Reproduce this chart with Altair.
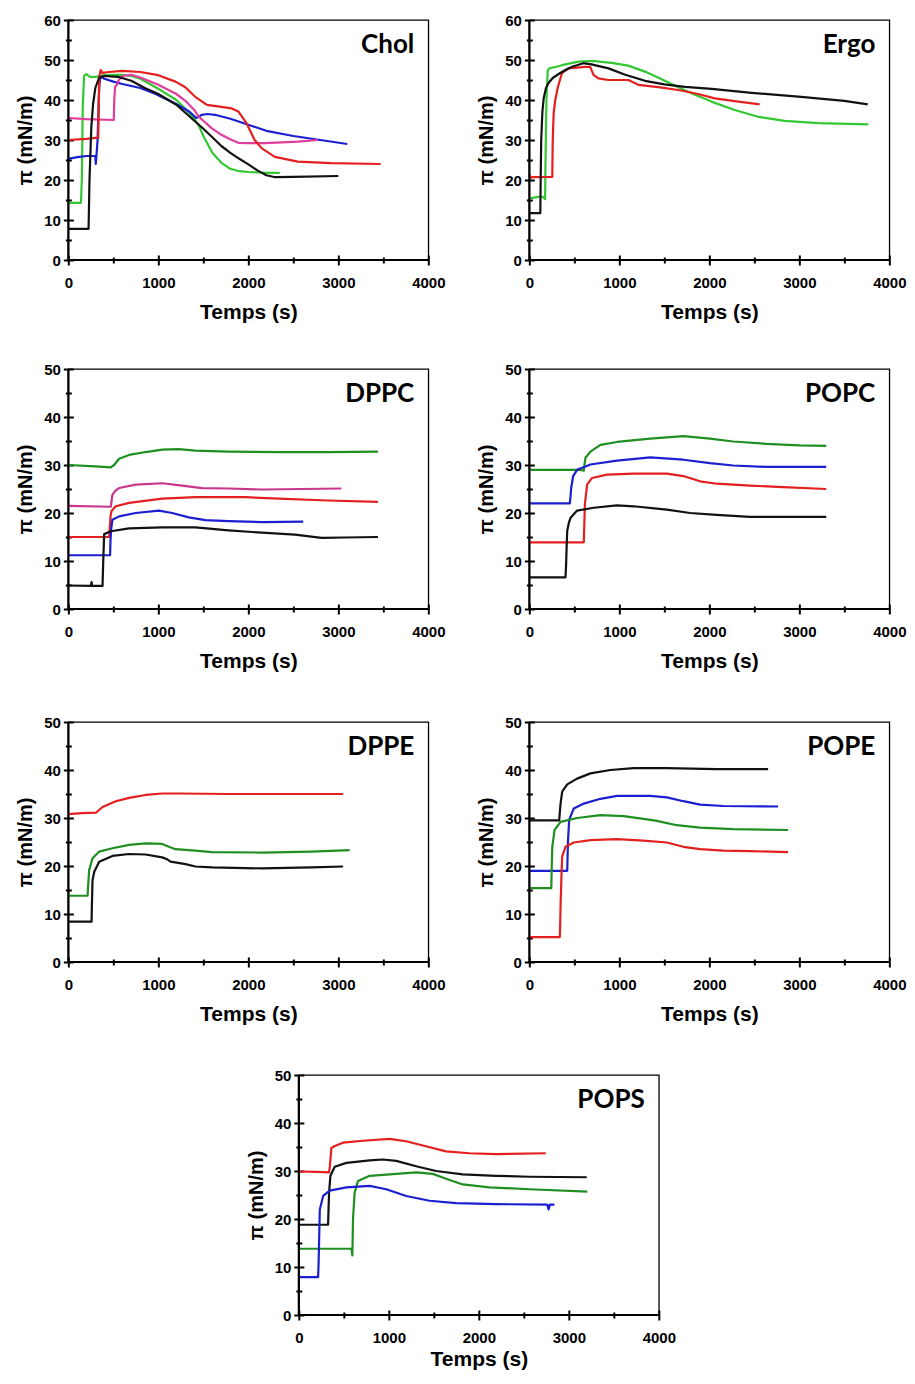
import altair as alt
import pandas as pd

# ---------------- data ----------------
# Chol
CHOL_BLACK_T = [0, 225, 235, 255, 275, 300, 340, 400, 550, 700, 850, 1000, 1200, 1400, 1500, 1600, 1700, 1800, 1900, 2000, 2100, 2200, 2300, 2500, 3000]
CHOL_BLACK_P = [7.8, 7.8, 20, 33, 39, 43, 45.5, 46, 45.8, 44.8, 43, 41.5, 38.8, 34.8, 32.8, 30.7, 28.5, 26.8, 25.3, 23.9, 22.4, 21.2, 20.7, 20.8, 21]
CHOL_GREEN_T = [0, 140, 150, 160, 175, 200, 240, 300, 400, 500, 600, 700, 800, 1000, 1200, 1300, 1400, 1450, 1500, 1600, 1700, 1800, 1900, 2000, 2200, 2350]
CHOL_GREEN_P = [14.3, 14.3, 20, 38, 46, 46.5, 45.8, 45.8, 46.2, 46.3, 46.3, 46, 45.3, 42.8, 40, 37.8, 35.3, 33.6, 31, 26.8, 24.3, 22.8, 22.2, 22, 21.8, 21.8]
CHOL_RED_T = [0, 200, 333, 338, 345, 360, 380, 450, 600, 800, 1000, 1190, 1300, 1410, 1540, 1700, 1815, 1890, 1980, 2070, 2150, 2295, 2550, 2920, 3470]
CHOL_RED_P = [30, 30.3, 30.6, 40, 46, 47.5, 46.8, 47, 47.3, 47, 46.2, 44.6, 43.2, 40.8, 38.8, 38.3, 37.9, 37.1, 34.2, 30, 27.9, 25.8, 24.6, 24.2, 24]
CHOL_BLUE_T = [0, 100, 200, 300, 305, 312, 325, 335, 345, 360, 400, 500, 600, 700, 800, 970, 1200, 1350, 1420, 1450, 1480, 1550, 1650, 1800, 2000, 2200, 2500, 2800, 3100]
CHOL_BLUE_P = [25.3, 25.7, 26, 26, 24, 26, 30, 38, 44, 46, 45.3, 44.6, 44, 43.5, 43, 41.5, 39, 37, 35.5, 35.8, 36.3, 36.5, 36.2, 35.3, 33.8, 32.3, 31, 30, 29]
CHOL_PINK_T = [0, 200, 505, 510, 520, 540, 560, 600, 700, 800, 1000, 1200, 1300, 1400, 1450, 1595, 1700, 1815, 1890, 2000, 2185, 2550, 2770]
CHOL_PINK_P = [35.5, 35.2, 35, 40, 43.3, 43.8, 45, 46, 46.3, 45.6, 43.8, 41.5, 39.8, 37.5, 35.8, 32.9, 31.3, 30, 29.3, 29.2, 29.2, 29.6, 30]

# Ergo
ERGO_BLACK_T = [0, 122, 126, 132, 145, 160, 185, 215, 260, 325, 400, 475, 600, 690, 880, 1065, 1285, 1500, 1730, 2025, 2470, 3020, 3500, 3760]
ERGO_BLACK_P = [11.7, 11.7, 20, 30, 37, 40.5, 43, 44.3, 45.5, 46.5, 47.5, 48.3, 49.2, 48.9, 47.9, 46.3, 44.8, 43.9, 43.3, 42.8, 41.8, 40.8, 39.8, 38.9]
ERGO_GREEN_T = [0, 100, 150, 175, 180, 190, 205, 230, 300, 362, 547, 694, 916, 1100, 1285, 1470, 1655, 1840, 2024, 2282, 2541, 2837, 3212, 3767]
ERGO_GREEN_P = [15.4, 15.8, 15.8, 15.2, 25, 40, 47.5, 48, 48.3, 48.7, 49.6, 49.8, 49.3, 48.6, 47.1, 45.2, 43.2, 41.3, 39.6, 37.5, 35.8, 34.8, 34.2, 33.9]
ERGO_RED_T = [0, 15, 40, 255, 260, 270, 288, 318, 362, 436, 620, 676, 713, 768, 879, 1100, 1211, 1433, 1655, 1876, 2061, 2282, 2559]
ERGO_RED_P = [21.3, 20.6, 20.7, 20.8, 30, 36.5, 40, 43.3, 46.7, 47.9, 48.3, 48.3, 46.3, 45.4, 45, 45, 43.8, 43.2, 42.5, 41.5, 40.4, 39.7, 38.9]

# DPPC
DPPC_GREEN_T = [0, 300, 472, 509, 564, 675, 859, 1043, 1228, 1412, 1780, 2334, 2887, 3440]
DPPC_GREEN_P = [30, 29.7, 29.5, 30, 31.3, 32.1, 32.7, 33.2, 33.3, 33, 32.8, 32.7, 32.7, 32.8]
DPPC_PINK_T = [0, 472, 480, 490, 520, 564, 748, 1043, 1265, 1486, 1780, 2150, 3034]
DPPC_PINK_P = [21.5, 21.3, 22.5, 23.8, 24.6, 25.2, 25.9, 26.2, 25.7, 25.2, 25.1, 24.9, 25.1]
DPPC_RED_T = [0, 453, 461, 470, 480, 527, 675, 1043, 1412, 1966, 2334, 2887, 3440]
DPPC_RED_P = [15, 15, 17, 19.5, 20.4, 21.4, 22.1, 23, 23.3, 23.3, 23, 22.6, 22.3]
DPPC_BLUE_T = [0, 464, 468, 475, 490, 564, 748, 1006, 1154, 1338, 1523, 1780, 2150, 2610]
DPPC_BLUE_P = [11.2, 11.2, 14, 16.5, 18.6, 19.3, 20, 20.5, 20, 19.1, 18.5, 18.3, 18.1, 18.2]
DPPC_BLACK_T = [0, 250, 258, 265, 380, 388, 398, 472, 675, 1043, 1412, 1780, 2150, 2518, 2813, 3071, 3440]
DPPC_BLACK_P = [4.9, 4.8, 5.6, 4.8, 4.8, 10, 15.6, 16.2, 16.8, 17, 17, 16.4, 15.9, 15.5, 14.8, 14.9, 15]

# POPC
POPC_GREEN_T = [0, 560, 605, 612, 624, 679, 790, 974, 1343, 1712, 2007, 2266, 2635, 3004, 3299]
POPC_GREEN_P = [29, 29, 28.8, 30, 31.5, 32.8, 34.2, 34.8, 35.5, 36, 35.5, 34.9, 34.4, 34.1, 34]
POPC_BLUE_T = [0, 450, 458, 465, 487, 531, 679, 974, 1343, 1712, 2007, 2266, 2635, 3299]
POPC_BLUE_P = [22, 22, 23.5, 25.2, 27.7, 29, 30.1, 30.9, 31.6, 31.1, 30.4, 29.9, 29.6, 29.6]
POPC_RED_T = [0, 605, 610, 617, 642, 697, 863, 1159, 1528, 1712, 1897, 2081, 2450, 2819, 3299]
POPC_RED_P = [13.9, 13.9, 17, 21.8, 25.9, 27.3, 28, 28.2, 28.2, 27.7, 26.6, 26.1, 25.7, 25.4, 25]
POPC_BLACK_T = [0, 402, 408, 413, 421, 440, 458, 531, 716, 974, 1159, 1528, 1786, 2081, 2450, 3299]
POPC_BLACK_P = [6.6, 6.6, 9, 12.1, 16.3, 18, 19, 20.5, 21.1, 21.6, 21.4, 20.7, 20, 19.6, 19.2, 19.2]

# DPPE
DPPE_RED_T = [0, 150, 306, 380, 527, 675, 859, 1043, 1228, 1780, 3053]
DPPE_RED_P = [30.8, 31, 31.1, 32.3, 33.5, 34.2, 34.8, 35.1, 35.1, 35, 35]
DPPE_GREEN_T = [0, 214, 222, 232, 269, 343, 490, 675, 859, 1043, 1117, 1191, 1412, 1597, 2150, 2703, 3126]
DPPE_GREEN_P = [13.8, 13.8, 16.5, 19.2, 21.6, 23, 23.7, 24.4, 24.7, 24.6, 24, 23.5, 23.2, 22.9, 22.8, 23, 23.3]
DPPE_BLACK_T = [0, 258, 262, 269, 288, 343, 490, 675, 859, 1043, 1099, 1136, 1302, 1412, 1597, 2150, 2703, 3053]
DPPE_BLACK_P = [8.4, 8.4, 12, 17.1, 18.8, 20.9, 22.1, 22.5, 22.4, 21.8, 21.4, 20.9, 20.4, 19.9, 19.7, 19.5, 19.7, 19.9]

# POPE
POPE_BLACK_T = [0, 332, 338, 347, 365, 421, 531, 679, 900, 1159, 1528, 2081, 2653]
POPE_BLACK_P = [29.5, 29.5, 31, 33, 35.5, 37, 38.2, 39.3, 40, 40.4, 40.4, 40.2, 40.2]
POPE_BLUE_T = [0, 421, 425, 430, 443, 494, 605, 790, 974, 1343, 1528, 1712, 1897, 2155, 2764]
POPE_BLUE_P = [19, 19, 22, 25.4, 29.6, 32, 33, 34, 34.6, 34.6, 34.3, 33.5, 32.8, 32.5, 32.4]
POPE_GREEN_T = [0, 244, 248, 255, 280, 347, 531, 790, 1048, 1269, 1417, 1638, 1897, 2266, 2875]
POPE_GREEN_P = [15.4, 15.4, 19, 24, 27.5, 29.2, 30, 30.6, 30.4, 29.8, 29.4, 28.5, 28, 27.7, 27.5]
POPE_RED_T = [0, 339, 343, 347, 357, 365, 402, 494, 679, 974, 1269, 1528, 1712, 1897, 2155, 2450, 2875]
POPE_RED_P = [5.2, 5.2, 8, 11.6, 18, 22, 24, 24.9, 25.4, 25.6, 25.3, 24.9, 24, 23.5, 23.2, 23.1, 22.9]

# POPS
POPS_RED_T = [0, 200, 336, 345, 351, 362, 399, 491, 713, 1008, 1193, 1378, 1636, 1895, 2190, 2744]
POPS_RED_P = [29.9, 29.8, 29.7, 31, 32.4, 34.8, 35.2, 35.9, 36.3, 36.7, 36.2, 35.3, 34.1, 33.7, 33.5, 33.7]
POPS_BLACK_T = [0, 325, 330, 336, 351, 399, 528, 787, 934, 1082, 1304, 1525, 1821, 2190, 2560, 3199]
POPS_BLACK_P = [18.8, 18.8, 22, 25.5, 29, 30.9, 31.7, 32.2, 32.4, 32.1, 31, 30, 29.3, 29, 28.8, 28.7]
POPS_GREEN_T = [0, 584, 590, 595, 602, 620, 657, 787, 1082, 1304, 1488, 1636, 1821, 2117, 2560, 3206]
POPS_GREEN_P = [13.8, 13.8, 13, 12.4, 20, 25.5, 27.9, 29, 29.4, 29.7, 29.4, 28.4, 27.2, 26.6, 26.2, 25.7]
POPS_BLUE_T = [0, 214, 220, 225, 233, 270, 343, 528, 787, 971, 1193, 1452, 1747, 2190, 2760, 2775, 2790, 2840]
POPS_BLUE_P = [7.9, 7.9, 11, 15.2, 22, 24.8, 25.9, 26.6, 26.9, 26.2, 24.8, 23.8, 23.3, 23.1, 23, 22, 23, 23]

X_MAJOR = [0, 1000, 2000, 3000, 4000]
X_MINOR = [500, 1500, 2500, 3500]

# ---------------- styles ----------------
COL = {
    "black": "#111111",
    "red": "#e3201f",
    "blue": "#1c1fd0",
    "green": "#33c733",
    "dkgreen": "#1f8f22",
    "pink": "#e23c9c",
    "dkpink": "#c8378c",
}
W, H = 360, 240
FONT = "Liberation Sans"


def make_df(series):
    rows = []
    for name, ts, ps in series:
        for i, (t, p) in enumerate(zip(ts, ps)):
            rows.append({"s": name, "c": COL[name], "t": t, "p": p, "i": i})
    return pd.DataFrame(rows)


def panel(label, series, ymax, xtitle_pad=11):
    xs = alt.Scale(domain=[0, 4000], nice=False, zero=False)
    ys = alt.Scale(domain=[0, ymax], nice=False, zero=False)
    y_major = list(range(0, ymax + 1, 10))
    y_minor = list(range(5, ymax, 10))
    df = make_df(series)

    ax_x = alt.Axis(orient="bottom", values=X_MAJOR, title="Temps (s)", format="d",
                    offset=-5, tickSize=10, tickWidth=2, tickColor="black",
                    domain=False, grid=False, labelFont=FONT, labelFontSize=15,
                    labelFontWeight="bold", labelColor="black", labelPadding=10,
                    labelFlush=False, labelOverlap=False,
                    titleFont=FONT, titleFontSize=21, titleFontWeight="bold",
                    titleColor="black", titlePadding=xtitle_pad)
    ax_y = alt.Axis(orient="left", values=y_major, title="π (mN/m)", format="d",
                    offset=-5, tickSize=10, tickWidth=2, tickColor="black",
                    domain=False, grid=False, labelFont=FONT, labelFontSize=15,
                    labelFontWeight="bold", labelColor="black", labelPadding=3,
                    labelFlush=False, labelOverlap=False,
                    titleFont=FONT, titleFontSize=20, titleFontWeight="bold",
                    titleColor="black", titlePadding=8)
    ax_x_minor = alt.Axis(orient="bottom", values=X_MINOR, offset=-3, tickSize=6,
                          tickWidth=2, tickColor="black", domain=False, grid=False,
                          labels=False, title=None)
    ax_y_minor = alt.Axis(orient="left", values=y_minor, offset=-3, tickSize=6,
                          tickWidth=2, tickColor="black", domain=False, grid=False,
                          labels=False, title=None)

    lines = alt.Chart(df).mark_line(strokeWidth=2.2, strokeJoin="round").encode(
        x=alt.X("t:Q", scale=xs, axis=ax_x),
        y=alt.Y("p:Q", scale=ys, axis=ax_y),
        color=alt.Color("c:N", scale=None, legend=None),
        detail="s:N",
        order=alt.Order("i:Q"),
    )
    one = pd.DataFrame({"z": [0]})
    vrule = alt.Chart(one).mark_rule(color="black", strokeWidth=2.2).encode(
        x=alt.XDatum(0, type="quantitative", scale=xs, axis=ax_x_minor)
    )
    hrule = alt.Chart(one).mark_rule(color="black", strokeWidth=2.2).encode(
        y=alt.YDatum(0, type="quantitative", scale=ys, axis=ax_y_minor)
    )
    txt = alt.Chart(pd.DataFrame({"l": [label]})).mark_text(
        font="Lato", fontSize=26, fontWeight="bold", align="right",
        baseline="alphabetic", color="black"
    ).encode(x=alt.value(W - 14), y=alt.value(33), text="l:N")

    return alt.layer(lines, vrule, hrule, txt).resolve_axis(
        x="independent", y="independent"
    ).properties(width=W, height=H)


chol = panel("Chol", [
    ("green", CHOL_GREEN_T, CHOL_GREEN_P),
    ("blue", CHOL_BLUE_T, CHOL_BLUE_P),
    ("pink", CHOL_PINK_T, CHOL_PINK_P),
    ("red", CHOL_RED_T, CHOL_RED_P),
    ("black", CHOL_BLACK_T, CHOL_BLACK_P),
], 60)
ergo = panel("Ergo", [
    ("green", ERGO_GREEN_T, ERGO_GREEN_P),
    ("red", ERGO_RED_T, ERGO_RED_P),
    ("black", ERGO_BLACK_T, ERGO_BLACK_P),
], 60)
dppc = panel("DPPC", [
    ("dkgreen", DPPC_GREEN_T, DPPC_GREEN_P),
    ("dkpink", DPPC_PINK_T, DPPC_PINK_P),
    ("red", DPPC_RED_T, DPPC_RED_P),
    ("blue", DPPC_BLUE_T, DPPC_BLUE_P),
    ("black", DPPC_BLACK_T, DPPC_BLACK_P),
], 50)
popc = panel("POPC", [
    ("dkgreen", POPC_GREEN_T, POPC_GREEN_P),
    ("blue", POPC_BLUE_T, POPC_BLUE_P),
    ("red", POPC_RED_T, POPC_RED_P),
    ("black", POPC_BLACK_T, POPC_BLACK_P),
], 50)
dppe = panel("DPPE", [
    ("red", DPPE_RED_T, DPPE_RED_P),
    ("dkgreen", DPPE_GREEN_T, DPPE_GREEN_P),
    ("black", DPPE_BLACK_T, DPPE_BLACK_P),
], 50)
pope = panel("POPE", [
    ("black", POPE_BLACK_T, POPE_BLACK_P),
    ("blue", POPE_BLUE_T, POPE_BLUE_P),
    ("dkgreen", POPE_GREEN_T, POPE_GREEN_P),
    ("red", POPE_RED_T, POPE_RED_P),
], 50)
pops = panel("POPS", [
    ("red", POPS_RED_T, POPS_RED_P),
    ("black", POPS_BLACK_T, POPS_BLACK_P),
    ("dkgreen", POPS_GREEN_T, POPS_GREEN_P),
    ("blue", POPS_BLUE_T, POPS_BLUE_P),
], 50, xtitle_pad=3)

HS = 29   # horizontal gap between panel bounding boxes
row1 = alt.hconcat(chol, ergo, spacing=HS)
row2 = alt.hconcat(dppc, popc, spacing=HS)
row3 = alt.hconcat(dppe, pope, spacing=HS)
top = alt.vconcat(row1, row2, spacing=38)

chart = alt.vconcat(top, row3, pops, spacing=42, center=True).configure_view(
    stroke="black", strokeWidth=1.3
).properties(background="white", padding={"left": 6, "top": 4, "right": 0, "bottom": 0})

chart.save("out.html", embed_options={"renderer": "svg", "actions": False})
